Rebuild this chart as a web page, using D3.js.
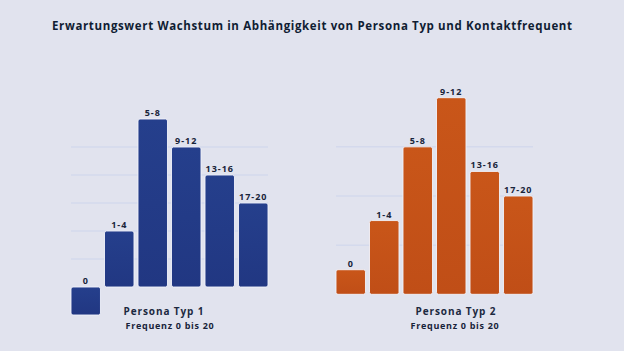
<!DOCTYPE html>
<html>
<head>
<meta charset="utf-8">
<script src="https://cdn.jsdelivr.net/npm/d3@7"></script>
<style>
  html, body { margin: 0; padding: 0; background: #e1e3ee; }
  svg { display: block; }
  text { font-family: "Open Sans", "DejaVu Sans", sans-serif; font-weight: 700; fill: #18243a; }
</style>
</head>
<body>
<div id="chart"></div>
<script>
const title = "Erwartungswert Wachstum in Abhängigkeit von Persona Typ und Kontaktfrequent";
const categories = ["0", "1-4", "5-8", "9-12", "13-16", "17-20"];
const typ1Values = [-1, 2, 6, 5, 4, 3];
const typ2Values = [0.5, 1.5, 3, 4, 2.5, 2];
const typ1Grid = [1, 2, 3, 4, 5];
const typ2Grid = [1, 2, 3];
const panelNames = ["Persona Typ 1", "Persona Typ 2"];
const subLabel = "Frequenz 0 bis 20";

const width = 624;
const height = 351;

const svg = d3.select("#chart")
    .append("svg")
    .attr("width", width)
    .attr("height", height);

svg.append("rect")
    .attr("width", width)
    .attr("height", height)
    .attr("fill", "#e1e3ee");

const defs = svg.append("defs");

function addGradient(id, top, bottom) {
    const grad = defs.append("linearGradient")
        .attr("id", id)
        .attr("x1", 0).attr("y1", 0)
        .attr("x2", 0).attr("y2", 1);
    grad.append("stop").attr("offset", "0%").attr("stop-color", top);
    grad.append("stop").attr("offset", "100%").attr("stop-color", bottom);
}
addGradient("blueFill", "#253f8c", "#213782");
addGradient("orangeFill", "#c95619", "#c04e17");

svg.append("text")
    .attr("x", width / 2)
    .attr("y", 30)
    .attr("text-anchor", "middle")
    .attr("font-size", 11.5)
    .attr("textLength", 520)
    .attr("lengthAdjust", "spacing")
    .style("fill", "#101d33")
    .text(title);

// one panel = one bar chart with its own scales
const panels = [
    {
        values: typ1Values, grid: typ1Grid, fill: "url(#blueFill)",
        xRange: [71, 268], yDomain: [-1, 6], yRange: [315, 119],
        name: panelNames[0], nameX: 164, subX: 170
    },
    {
        values: typ2Values, grid: typ2Grid, fill: "url(#orangeFill)",
        xRange: [336, 533], yDomain: [0, 4], yRange: [294.3, 97.7],
        name: panelNames[1], nameX: 456, subX: 455
    }
];

panels.forEach(p => {
    const x = d3.scaleBand()
        .domain(categories)
        .range(p.xRange)
        .paddingInner(0.12)
        .paddingOuter(0);

    const y = d3.scaleLinear()
        .domain(p.yDomain)
        .range(p.yRange);

    const g = svg.append("g");

    g.selectAll(".grid")
        .data(p.grid)
        .enter().append("line")
        .attr("class", "grid")
        .attr("x1", p.xRange[0])
        .attr("x2", p.xRange[1])
        .attr("y1", d => y(d))
        .attr("y2", d => y(d))
        .attr("stroke", "#cdd5ec")
        .attr("stroke-width", 1);

    const data = categories.map((c, i) => ({ cat: c, value: p.values[i] }));

    g.selectAll(".bar")
        .data(data)
        .enter().append("rect")
        .attr("class", "bar")
        .attr("x", d => x(d.cat))
        .attr("y", d => y(Math.max(0, d.value)))
        .attr("width", x.bandwidth())
        .attr("height", d => Math.abs(y(d.value) - y(0)))
        .attr("rx", 2)
        .attr("ry", 2)
        .attr("fill", p.fill)
        .attr("stroke", "#f2f3fa")
        .attr("stroke-width", 0.9);

    g.selectAll(".bar-label")
        .data(data)
        .enter().append("text")
        .attr("class", "bar-label")
        .attr("x", d => x(d.cat) + x.bandwidth() / 2)
        .attr("y", d => y(Math.max(0, d.value)) - 3)
        .attr("text-anchor", "middle")
        .attr("font-size", 9)
        .attr("letter-spacing", 1)
        .text(d => d.cat);

    g.append("text")
        .attr("x", p.nameX)
        .attr("y", 314.5)
        .attr("text-anchor", "middle")
        .attr("font-size", 10)
        .attr("letter-spacing", 0.9)
        .style("fill", "#1c2940")
        .text(p.name);

    g.append("text")
        .attr("x", p.subX)
        .attr("y", 329)
        .attr("text-anchor", "middle")
        .attr("font-size", 9)
        .attr("letter-spacing", 0.7)
        .text(subLabel);
});
</script>
</body>
</html>
